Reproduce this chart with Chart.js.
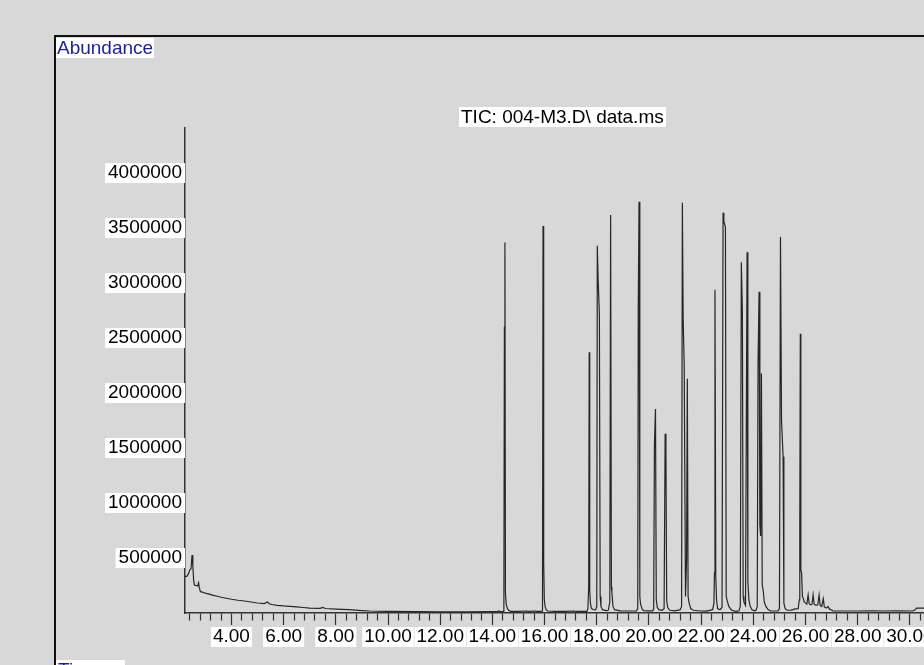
<!DOCTYPE html>
<html>
<head>
<meta charset="utf-8">
<script src="https://cdn.jsdelivr.net/npm/chart.js@4.4.1/dist/chart.umd.min.js"></script>
<style>
  html, body { margin: 0; padding: 0; background: #d8d8d8; overflow: hidden; }
  #wrap { position: relative; width: 924px; height: 665px; }
  #frame { position: absolute; left: 54px; top: 35px; width: 1000px; height: 1000px;
           border: 2px solid #111; box-sizing: border-box; }
  #chartBox { position: absolute; left: 0; top: 0; width: 924px; height: 665px; }
  .lbl { position: absolute; background: #fff; white-space: nowrap;
         font-family: "Liberation Sans", Arial, sans-serif; font-size: 19px; line-height: 20px; }
  #abund { left: 56px; top: 38px; padding: 0 1px; color: #1e1e96; }
  #title { left: 459px; top: 107px; padding: 0 2px; color: #000; }
  #time { left: 56px; top: 660px; padding: 0 2px; color: #1e1e96; }
</style>
</head>
<body>
<div id="wrap">
  <div id="frame"></div>
  <div id="chartBox"><canvas id="ticChart"></canvas></div>
  <div class="lbl" id="abund">Abundance</div>
  <div class="lbl" id="title">TIC: 004-M3.D\ data.ms</div>
  <div class="lbl" id="time">Time--&gt;</div>
</div>
<script>
// Axis ranges and tick labels
const xMin = 2.22;
const xMax = 30.54;
const yMax = 4410000;
const xLabelTicks = [4, 6, 8, 10, 12, 14, 16, 18, 20, 22, 24, 26, 28, 30];
const yTickValues = [500000, 1000000, 1500000, 2000000, 2500000, 3000000, 3500000, 4000000];

// Retention time (min)
const retentionTime = [
    2.22, 2.30, 2.36, 2.40, 2.45, 2.49, 2.52, 2.55, 2.58, 2.64, 2.70, 2.74, 2.77, 2.81, 2.89, 3.00,
    3.15, 3.31, 3.46, 3.61, 3.80, 4.00, 4.25, 4.50, 4.75, 5.00, 5.25, 5.38, 5.45, 5.55, 5.75, 6.00,
    6.25, 6.50, 6.75, 7.00, 7.40, 7.50, 7.60, 8.00, 8.50, 9.00, 9.30, 9.60, 10.00, 11.00, 12.00, 13.00, 14.00,
    14.20, 14.25, 14.30, 14.40, 14.44, 14.46, 14.48, 14.50, 14.53, 14.57, 14.62, 14.70, 15.00, 15.30, 15.40,
    15.60, 15.70, 15.88, 15.92,
    15.94, 15.96, 15.97, 15.99, 16.02, 16.06, 16.12, 16.40, 16.80, 17.10, 17.20, 17.40, 17.62, 17.66, 17.69,
    17.71, 17.73, 17.76, 17.80, 17.90, 17.96, 18.00,
    18.02, 18.05, 18.10, 18.13, 18.16, 18.22, 18.35, 18.44, 18.50,
    18.53, 18.56, 18.58, 18.62, 18.68, 18.90, 19.20, 19.52, 19.57,
    19.59, 19.62, 19.65, 19.68, 19.74, 19.80, 20.00, 20.14, 20.18,
    20.21, 20.25, 20.28, 20.32, 20.38, 20.50, 20.58,
    20.62, 20.65, 20.68, 20.72, 20.80, 21.00, 21.20, 21.25,
    21.28, 21.31, 21.35, 21.40, 21.44, 21.47, 21.50, 21.54, 21.60, 21.70, 22.00, 22.20, 22.44, 22.49, 22.51,
    22.53, 22.56, 22.59, 22.63, 22.72, 22.80,
    22.84, 22.87, 22.93, 22.96, 23.00, 23.06, 23.15, 23.25, 23.35, 23.45, 23.50,
    23.54, 23.58, 23.61, 23.64, 23.70,
    23.76, 23.79, 23.83, 23.88, 23.95, 24.05, 24.10, 24.15,
    24.18, 24.22, 24.25, 24.28, 24.31, 24.34, 24.38, 24.42, 24.48, 24.55, 24.65, 24.80, 24.95, 25.00,
    25.04, 25.08, 25.14, 25.17, 25.22, 25.30, 25.45, 25.60, 25.68, 25.72, 25.76, 25.78,
    25.80, 25.82, 25.85, 25.88, 25.91, 25.95, 26.00, 26.05, 26.10, 26.14, 26.20, 26.25, 26.29, 26.33,
    26.40, 26.47, 26.52, 26.56, 26.62, 26.68, 26.72, 26.80, 26.86, 26.92, 27.00, 27.05, 27.50, 28.00,
    28.50, 29.00, 29.50, 30.10, 30.20, 30.26, 30.54
];

// Total ion current abundance at each retention time
const abundance = [
    330000, 335000, 360000, 390000, 400000, 527000, 430000, 300000, 255000, 250000, 245000, 275000, 230000, 194000, 190000, 180000,
    172000, 160000, 152000, 143000, 134000, 125000, 116000, 109000, 100000, 91000, 85000, 100000, 84000, 77000, 70000, 64000,
    60000, 55000, 50000, 45000, 42000, 50000, 41000, 36000, 30000, 22000, 18000, 16000, 14000, 12000, 11000, 11000, 12000,
    12000, 20000, 12000, 14000, 16000, 2600000, 3370000, 180000, 80000, 45000, 25000, 15000, 14000, 18000, 14000,
    18000, 14000, 14000, 20000,
    3520000, 573000, 466000, 120000, 60000, 30000, 18000, 15000, 14000, 18000, 14000, 16000, 15000, 40000, 240000,
    2370000, 196000, 80000, 40000, 28000, 30000, 60000,
    3340000, 3050000, 2710000, 150000, 60000, 30000, 22000, 25000, 100000,
    3620000, 236000, 190000, 60000, 30000, 20000, 18000, 20000, 40000,
    2770000, 3740000, 146000, 80000, 35000, 22000, 20000, 20000, 35000,
    1530000, 1855000, 120000, 50000, 30000, 25000, 40000,
    1630000, 1430000, 110000, 50000, 25000, 20000, 30000, 60000,
    3730000, 2680000, 2260000, 150000, 466000, 2130000, 148000, 90000, 40000, 25000, 18000, 17000, 30000, 90000, 364000,
    2940000, 330000, 120000, 40000, 30000, 50000,
    3640000, 3560000, 3510000, 150000, 110000, 60000, 30000, 20000, 15000, 20000, 60000,
    3190000, 2740000, 150000, 100000, 70000,
    3280000, 285000, 120000, 60000, 30000, 20000, 25000, 60000,
    2270000, 2920000, 800000, 700000, 2180000, 255000, 200000, 100000, 60000, 35000, 20000, 18000, 20000, 40000,
    3420000, 1750000, 1420000, 90000, 40000, 25000, 27000, 37000, 37000, 40000, 120000, 773000,
    2540000, 391000, 364000, 150000, 136000, 100000, 90000, 80000, 164000, 85000, 75000, 80000, 164000, 80000,
    70000, 75000, 164000, 70000, 60000, 130000, 55000, 45000, 60000, 35000, 28000, 20000, 18000, 18000,
    20000, 18000, 20000, 18000, 30000, 45000, 45000
];

const fontFamily = '"Liberation Sans", Arial, sans-serif';

function isMajor(v) {
    return xLabelTicks.some(t => Math.abs(t - v) < 1e-6);
}

new Chart(document.getElementById('ticChart'), {
    type: 'line',
    data: {
        datasets: [{
            data: retentionTime.map((t, i) => ({ x: t, y: abundance[i] })),
            borderColor: '#262626',
            borderWidth: 1.2,
            pointRadius: 0,
            tension: 0,
            fill: false
        }]
    },
    options: {
        responsive: true,
        maintainAspectRatio: false,
        animation: false,
        events: [],
        layout: { padding: { top: 128, left: 0, right: 0, bottom: 0 } },
        plugins: {
            legend: { display: false },
            tooltip: { enabled: false }
        },
        scales: {
            x: {
                type: 'linear',
                position: 'bottom',
                min: xMin,
                max: xMax,
                border: { color: '#333', width: 1.5 },
                grid: {
                    display: true,
                    drawOnChartArea: false,
                    drawTicks: true,
                    tickLength: 12,
                    tickColor: '#333',
                    tickWidth: 1.2,
                    tickBorderDash: (ctx) => (ctx.tick && isMajor(ctx.tick.value)) ? [] : [7, 30]
                },
                ticks: {
                    stepSize: 0.4,
                    maxTicksLimit: 200,
                    includeBounds: false,
                    autoSkip: false,
                    maxRotation: 0,
                    padding: 2,
                    color: '#000',
                    font: { family: fontFamily, size: 19, lineHeight: 1.05 },
                    callback: (v) => isMajor(v) ? Number(v).toFixed(2) : '',
                    showLabelBackdrop: (ctx) => !!(ctx.tick && isMajor(ctx.tick.value)),
                    backdropColor: '#fff',
                    backdropPadding: { top: 0, bottom: 0, left: 2, right: 2 }
                },
                afterFit: (scale) => { scale.height = 52; }
            },
            y: {
                min: 0,
                max: yMax,
                border: { color: '#333', width: 1.5 },
                grid: { display: false, drawTicks: false },
                afterBuildTicks: (scale) => {
                    scale.ticks = yTickValues.map(v => ({ value: v }));
                },
                ticks: {
                    autoSkip: false,
                    padding: 3,
                    color: '#000',
                    font: { family: fontFamily, size: 19, lineHeight: 1.05 },
                    callback: (v) => String(v),
                    showLabelBackdrop: true,
                    backdropColor: '#fff',
                    backdropPadding: { top: 0, bottom: 0, left: 3, right: 3 }
                },
                afterFit: (scale) => { scale.width = 185; }
            }
        }
    }
});
</script>
</body>
</html>
